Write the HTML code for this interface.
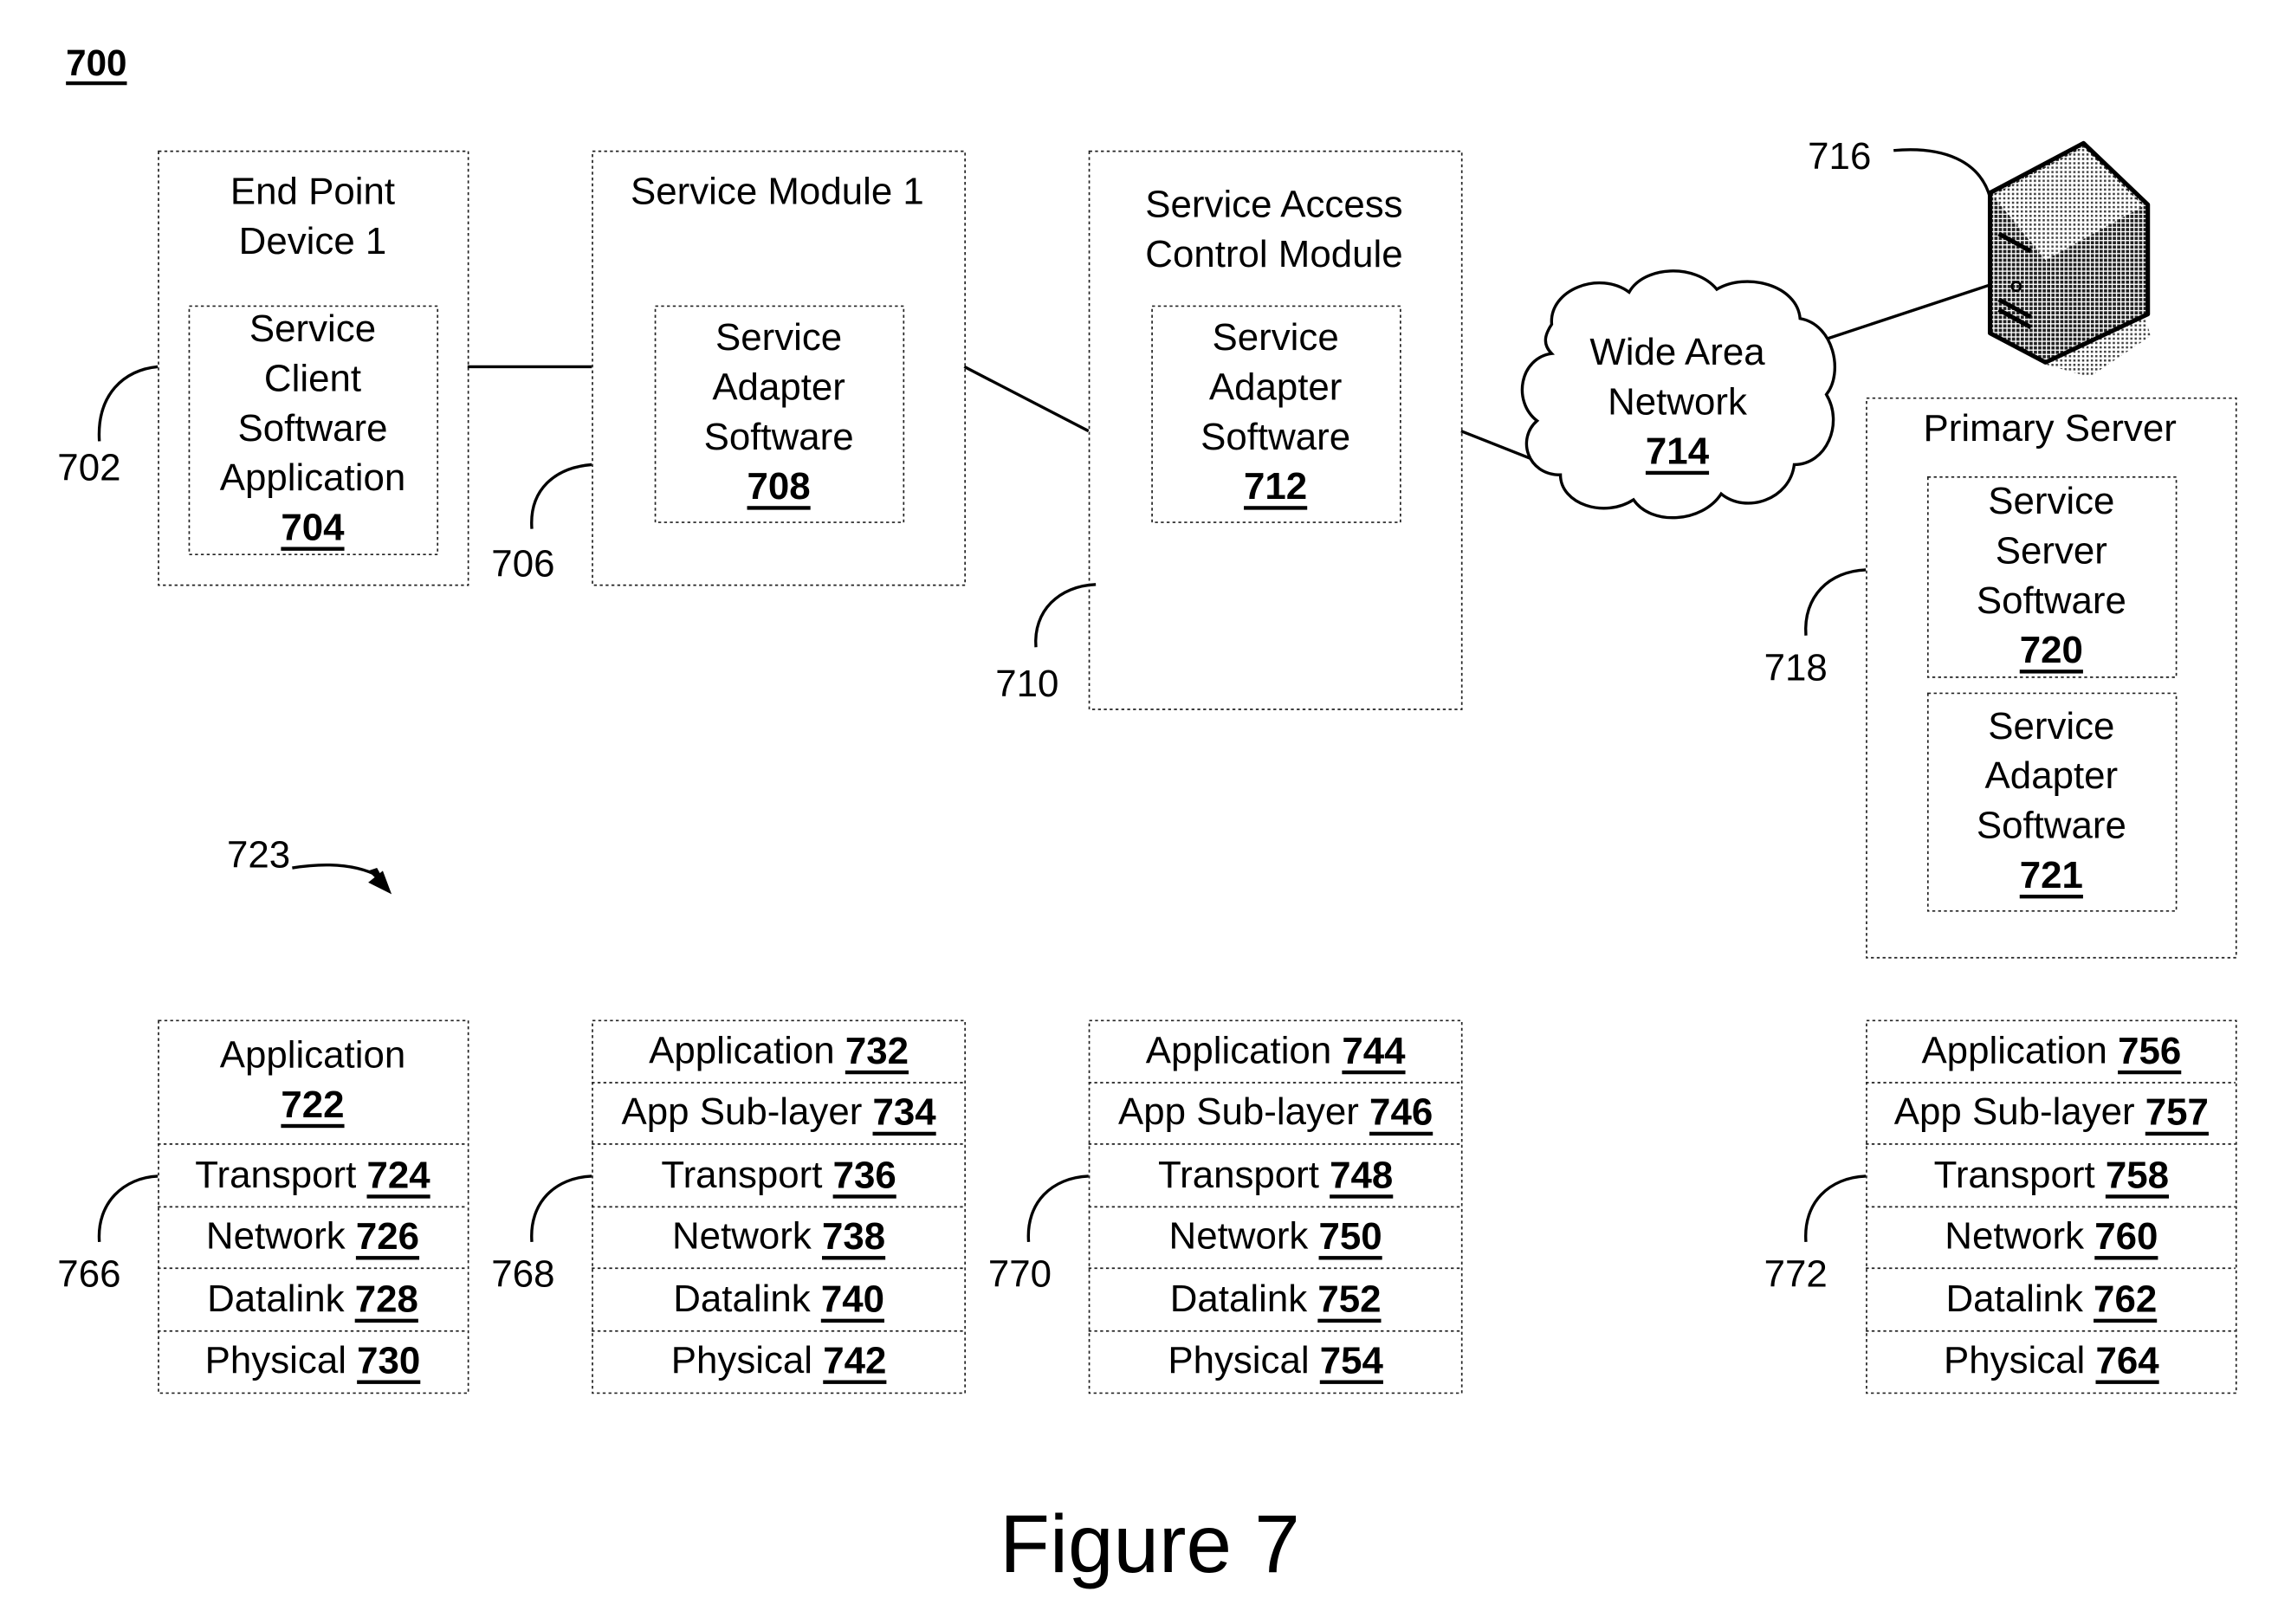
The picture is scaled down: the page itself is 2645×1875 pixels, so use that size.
<!DOCTYPE html>
<html><head><meta charset="utf-8"><style>
html,body{margin:0;padding:0;background:#fff;}
svg{display:block;}
text{font-family:"Liberation Sans",Arial,sans-serif;fill:#000;}
</style></head><body>
<svg width="2645" height="1875" viewBox="0 0 1568 1111.5" preserveAspectRatio="none" xmlns="http://www.w3.org/2000/svg">
<defs>
<pattern id="dots" width="3" height="3" patternUnits="userSpaceOnUse"><rect width="3" height="3" fill="#fff"/><rect width="2.2" height="2.2" fill="#222"/></pattern>
<pattern id="dots2" width="3" height="3" patternUnits="userSpaceOnUse"><rect width="3" height="3" fill="#fff"/><rect width="1.5" height="1.5" fill="#444"/></pattern>
</defs>
<g fill="none" stroke="#222" stroke-width="1" stroke-dasharray="2,2">
<rect x="108.5" y="103.5" width="212" height="297"/>
<rect x="129.5" y="209.5" width="170" height="170"/>
<rect x="405.5" y="103.5" width="255" height="297"/>
<rect x="448.5" y="209.5" width="170" height="148"/>
<rect x="745.5" y="103.5" width="255" height="382"/>
<rect x="788.5" y="209.5" width="170" height="148"/>
<rect x="1277.5" y="272.5" width="253" height="383"/>
<rect x="1319.5" y="326.5" width="170" height="137"/>
<rect x="1319.5" y="474.5" width="170" height="149"/>
<rect x="108.5" y="698.5" width="212" height="255"/>
<path d="M108 783H320M108 826H320M108 868H320M108 911H320"/>
<rect x="405.5" y="698.5" width="255" height="255"/>
<path d="M405 741H660M405 783H660M405 826H660M405 868H660M405 911H660"/>
<rect x="745.5" y="698.5" width="255" height="255"/>
<path d="M745 741H1000M745 783H1000M745 826H1000M745 868H1000M745 911H1000"/>
<rect x="1277.5" y="698.5" width="253" height="255"/>
<path d="M1277 741H1530M1277 783H1530M1277 826H1530M1277 868H1530M1277 911H1530"/>
</g>
<g fill="none" stroke="#000" stroke-width="2">
<path d="M320 251H405"/>
<path d="M660 251L745 295"/>
<path d="M1000 295L1048 314"/>
<path d="M1250 232L1362 195"/>
<path d="M68 302C66 270 85 253 108 251"/>
<path d="M364 362C362 335 380 320 405 318"/>
<path d="M709 443C707 418 725 401 750 400"/>
<path d="M1236 435C1234 408 1252 391 1277 390"/>
<path d="M1296 103C1330 100 1355 110 1362 135"/>
<path d="M68 850C66 823 85 806 108 805"/>
<path d="M364 850C362 823 380 806 405 805"/>
<path d="M704 850C702 823 720 806 745 805"/>
<path d="M1236 850C1234 823 1252 806 1277 805"/>
<path d="M200 594C225 590 245 592 260 600"/>
</g>
<polygon points="252,596 268,612 258,594 " fill="#000"/>
<polygon points="252,604 268,612 262,596" fill="#000"/>
<path d="M1062 222C1060 198 1095 185 1115 200C1125 182 1160 180 1175 198C1195 186 1230 195 1232 218C1255 222 1262 255 1250 270C1262 290 1250 318 1228 318C1225 342 1195 352 1178 338C1165 358 1130 360 1118 342C1098 355 1068 345 1068 325C1045 325 1038 300 1052 288C1035 275 1040 245 1062 242C1055 235 1058 228 1062 222Z" fill="#fff" stroke="#000" stroke-width="2"/>
<polygon points="1430,258 1472,230 1466,210 1395,248" fill="url(#dots2)"/>
<polygon points="1362,132 1426,98 1470,140 1470,215 1400,248 1362,228" fill="url(#dots)" stroke="#000" stroke-width="3" stroke-linejoin="round"/>
<polygon points="1364,134 1426,101 1467,141 1400,178" fill="url(#dots2)"/>
<path d="M1368 160L1390 172M1368 205L1390 217M1368 212L1390 224" stroke="#000" stroke-width="3"/>
<circle cx="1380" cy="196" r="3" fill="none" stroke="#000" stroke-width="1.5"/>
<g font-size="26" text-anchor="middle" dominant-baseline="central">
<text x="66" y="43" font-weight="bold" font-size="25" text-decoration="underline">700</text>
<text x="214" y="131">End Point</text><text x="214" y="165">Device 1</text>
<text x="214" y="225">Service</text><text x="214" y="259">Client</text><text x="214" y="293">Software</text><text x="214" y="327">Application</text>
<text x="214" y="361" font-weight="bold" text-decoration="underline">704</text>
<text x="532" y="131">Service Module 1</text>
<text x="533" y="231">Service</text><text x="533" y="265">Adapter</text><text x="533" y="299">Software</text>
<text x="533" y="333" font-weight="bold" text-decoration="underline">708</text>
<text x="872" y="140">Service Access</text><text x="872" y="174">Control Module</text>
<text x="873" y="231">Service</text><text x="873" y="265">Adapter</text><text x="873" y="299">Software</text>
<text x="873" y="333" font-weight="bold" text-decoration="underline">712</text>
<text x="1148" y="241">Wide Area</text><text x="1148" y="275">Network</text>
<text x="1148" y="309" font-weight="bold" text-decoration="underline">714</text>
<text x="1403" y="293">Primary Server</text>
<text x="1404" y="343">Service</text><text x="1404" y="377">Server</text><text x="1404" y="411">Software</text>
<text x="1404" y="445" font-weight="bold" text-decoration="underline">720</text>
<text x="1404" y="497">Service</text><text x="1404" y="531">Adapter</text><text x="1404" y="565">Software</text>
<text x="1404" y="599" font-weight="bold" text-decoration="underline">721</text>
<text x="61" y="320">702</text><text x="358" y="386">706</text><text x="703" y="468">710</text>
<text x="1259" y="107">716</text><text x="1229" y="457">718</text><text x="177" y="585">723</text>
<text x="61" y="872">766</text><text x="358" y="872">768</text><text x="698" y="872">770</text><text x="1229" y="872">772</text>
<text x="214" y="722">Application</text><text x="214" y="756" font-weight="bold" text-decoration="underline">722</text>
<text x="214" y="804">Transport <tspan font-weight="bold" text-decoration="underline">724</tspan></text>
<text x="214" y="846">Network <tspan font-weight="bold" text-decoration="underline">726</tspan></text>
<text x="214" y="889">Datalink <tspan font-weight="bold" text-decoration="underline">728</tspan></text>
<text x="214" y="931">Physical <tspan font-weight="bold" text-decoration="underline">730</tspan></text>
<text x="533" y="719">Application <tspan font-weight="bold" text-decoration="underline">732</tspan></text>
<text x="533" y="761">App Sub-layer <tspan font-weight="bold" text-decoration="underline">734</tspan></text>
<text x="533" y="804">Transport <tspan font-weight="bold" text-decoration="underline">736</tspan></text>
<text x="533" y="846">Network <tspan font-weight="bold" text-decoration="underline">738</tspan></text>
<text x="533" y="889">Datalink <tspan font-weight="bold" text-decoration="underline">740</tspan></text>
<text x="533" y="931">Physical <tspan font-weight="bold" text-decoration="underline">742</tspan></text>
<text x="873" y="719">Application <tspan font-weight="bold" text-decoration="underline">744</tspan></text>
<text x="873" y="761">App Sub-layer <tspan font-weight="bold" text-decoration="underline">746</tspan></text>
<text x="873" y="804">Transport <tspan font-weight="bold" text-decoration="underline">748</tspan></text>
<text x="873" y="846">Network <tspan font-weight="bold" text-decoration="underline">750</tspan></text>
<text x="873" y="889">Datalink <tspan font-weight="bold" text-decoration="underline">752</tspan></text>
<text x="873" y="931">Physical <tspan font-weight="bold" text-decoration="underline">754</tspan></text>
<text x="1404" y="719">Application <tspan font-weight="bold" text-decoration="underline">756</tspan></text>
<text x="1404" y="761">App Sub-layer <tspan font-weight="bold" text-decoration="underline">757</tspan></text>
<text x="1404" y="804">Transport <tspan font-weight="bold" text-decoration="underline">758</tspan></text>
<text x="1404" y="846">Network <tspan font-weight="bold" text-decoration="underline">760</tspan></text>
<text x="1404" y="889">Datalink <tspan font-weight="bold" text-decoration="underline">762</tspan></text>
<text x="1404" y="931">Physical <tspan font-weight="bold" text-decoration="underline">764</tspan></text>
<text x="787" y="1057" font-size="56">Figure 7</text>
</g>
</svg>
</body></html>
